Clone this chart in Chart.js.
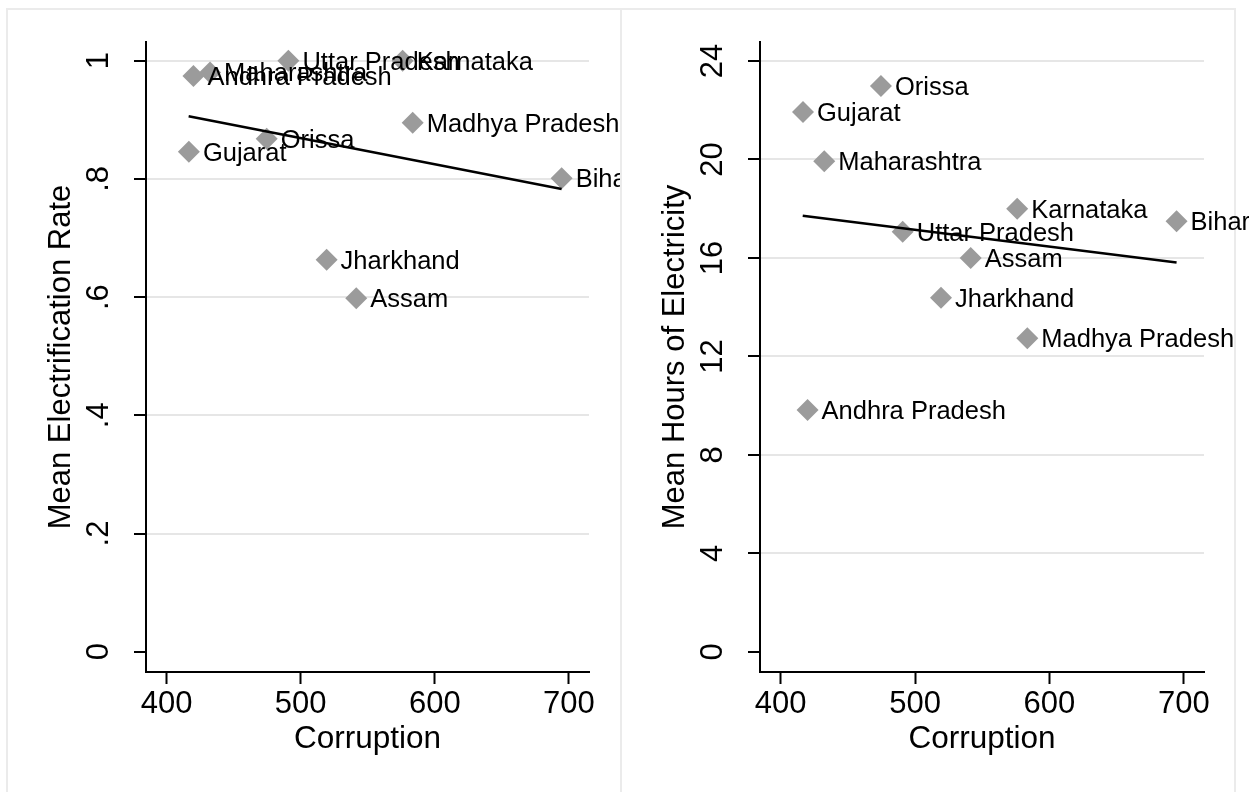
<!DOCTYPE html>
<html>
<head>
<meta charset="utf-8">
<script src="https://cdn.jsdelivr.net/npm/chart.js@4"></script>
<style>
  html, body { margin: 0; padding: 0; background: #fff; width: 1249px; height: 792px; overflow: hidden; }
  .panel { position: absolute; top: 8px; height: 800px; box-sizing: border-box;
           border-top: 2px solid #ebebeb; border-left: 2px solid #ebebeb; border-right: 2px solid #ebebeb; }
  canvas { position: absolute; top: 10px; }
</style>
</head>
<body>
<div class="panel" style="left:6px; width:616px;"></div>
<div class="panel" style="left:620px; width:616px;"></div>
<canvas id="chart-left" width="612" height="782" style="left:8px; width:612px; height:782px;"></canvas>
<canvas id="chart-right" width="627" height="782" style="left:622px; width:627px; height:782px;"></canvas>
<script>
// data
const states = ['Andhra Pradesh', 'Maharashtra', 'Uttar Pradesh', 'Karnataka', 'Madhya Pradesh',
                'Orissa', 'Gujarat', 'Bihar', 'Jharkhand', 'Assam'];
const corruption = [420, 432.4, 490.8, 576, 583.5, 474.6, 416.6, 694.6, 519.3, 541.4];
const electrification = [0.974, 0.98, 1.0, 1.0, 0.895, 0.868, 0.846, 0.801, 0.663, 0.598];
const hours = [9.82, 19.93, 17.06, 18.0, 12.74, 22.98, 21.93, 17.49, 14.38, 16.0];

// fitted lines (end points)
const fitX = [416.4, 694.6];
const fitElectrification = [0.906, 0.783];
const fitHours = [17.71, 15.81];

// axis ticks
const xTicks = [400, 500, 600, 700];
const leftYTicks = [0, 0.2, 0.4, 0.6, 0.8, 1];
const leftYTickLabels = ['0', '.2', '.4', '.6', '.8', '1'];
const rightYTicks = [0, 4, 8, 12, 16, 20, 24];
const rightYTickLabels = ['0', '4', '8', '12', '16', '20', '24'];

const FONT = '"Liberation Sans", Arial, Helvetica, sans-serif';
Chart.defaults.font.family = FONT;
Chart.defaults.color = '#000';

// labels next to each marker, drawn right after the scatter dataset
const markerLabels = {
    id: 'markerLabels',
    afterDatasetDraw(chart, args) {
        if (args.index !== 0) return;
        const ctx = chart.ctx;
        const meta = chart.getDatasetMeta(0);
        ctx.save();
        ctx.font = '25.5px ' + FONT;
        ctx.fillStyle = '#000';
        ctx.textAlign = 'left';
        ctx.textBaseline = 'alphabetic';
        meta.data.forEach((pt, i) => {
            ctx.fillText(states[i], pt.x + 14, pt.y + 9);
        });
        ctx.restore();
    }
};

// vertical y tick labels (Stata style)
const yTickLabels = {
    id: 'yTickLabels',
    afterDraw(chart, args, opts) {
        const ctx = chart.ctx;
        const yScale = chart.scales.y;
        ctx.save();
        ctx.font = '31px ' + FONT;
        ctx.fillStyle = '#000';
        ctx.textAlign = 'center';
        ctx.textBaseline = 'alphabetic';
        opts.values.forEach((v, i) => {
            const py = yScale.getPixelForValue(v);
            ctx.save();
            ctx.translate(yScale.right - 38, py);
            ctx.rotate(-Math.PI / 2);
            ctx.fillText(opts.labels[i], 0, 0);
            ctx.restore();
        });
        ctx.restore();
    }
};

function makeChart(canvasId, yValues, fitY, yMin, yMax, yTicks, yLabels, yTitle, padRight) {
    const points = corruption.map((c, i) => ({ x: c, y: yValues[i] }));
    const fitPoints = fitX.map((c, i) => ({ x: c, y: fitY[i] }));
    return new Chart(document.getElementById(canvasId), {
        type: 'scatter',
        data: {
            datasets: [
                {
                    data: points,
                    pointStyle: 'rectRot',
                    pointRadius: 11,
                    pointBackgroundColor: '#9b9b9b',
                    pointBorderWidth: 0,
                    order: 2
                },
                {
                    type: 'line',
                    data: fitPoints,
                    borderColor: '#000',
                    borderWidth: 2.5,
                    pointRadius: 0,
                    fill: false,
                    order: 1
                }
            ]
        },
        options: {
            responsive: false,
            animation: false,
            devicePixelRatio: 1,
            layout: { padding: { top: 32, right: padRight, left: 0, bottom: 0 } },
            plugins: {
                legend: { display: false },
                tooltip: { enabled: false },
                yTickLabels: { values: yTicks, labels: yLabels }
            },
            scales: {
                x: {
                    type: 'linear',
                    min: 384.6,
                    max: 715,
                    afterBuildTicks: s => { s.ticks = xTicks.map(v => ({ value: v })); },
                    afterFit: s => { s.height = 120; },
                    ticks: { font: { size: 31 }, color: '#000', padding: 2, maxRotation: 0 },
                    grid: { drawOnChartArea: false, tickColor: '#000', tickLength: 12, tickWidth: 2 },
                    border: { color: '#000', width: 2 },
                    title: { display: true, text: 'Corruption', font: { size: 31.5 }, color: '#000',
                             padding: { top: 0, bottom: 34 } }
                },
                y: {
                    type: 'linear',
                    min: yMin,
                    max: yMax,
                    afterBuildTicks: s => { s.ticks = yTicks.map(v => ({ value: v })); },
                    afterFit: s => { s.width = 138; },
                    ticks: { display: false },
                    grid: {
                        color: c => (c.tick && c.tick.value === 0) ? 'rgba(0,0,0,0)' : '#e6e6e6',
                        lineWidth: 2,
                        tickColor: '#000',
                        tickLength: 12,
                        tickWidth: 2
                    },
                    border: { color: '#000', width: 2 },
                    title: { display: true, text: yTitle, font: { size: 31 }, color: '#000',
                             padding: { top: 35, bottom: 0 } }
                }
            }
        },
        plugins: [markerLabels, yTickLabels]
    });
}

makeChart('chart-left', electrification, fitElectrification, -0.0343, 1.0316,
          leftYTicks, leftYTickLabels, 'Mean Electrification Rate', 31);
makeChart('chart-right', hours, fitHours, -0.82, 24.77,
          rightYTicks, rightYTickLabels, 'Mean Hours of Electricity', 45);
</script>
</body>
</html>
